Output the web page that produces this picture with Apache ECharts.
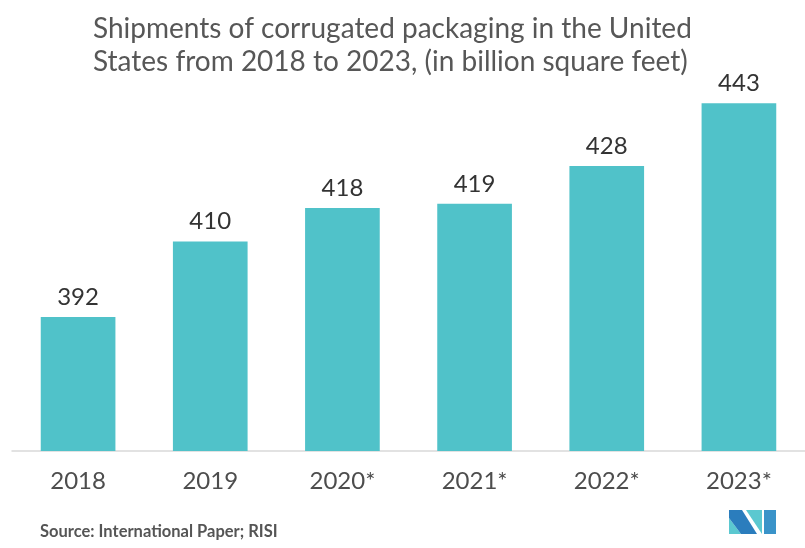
<!DOCTYPE html>
<html>
<head>
<meta charset="utf-8">
<script src="https://cdn.jsdelivr.net/npm/echarts@6/dist/echarts.min.js"></script>
<style>
  html, body { margin: 0; padding: 0; background: #fff; }
  #main { width: 805px; height: 548px; }
</style>
</head>
<body>
<div id="main"></div>
<script>
var years = ['2018', '2019', '2020*', '2021*', '2022*', '2023*'];
var shipments = [392, 410, 418, 419, 428, 443];

var FONT = 'Lato';
var myChart = echarts.init(document.getElementById('main'));

var option = {
    backgroundColor: '#fff',
    title: {
        text: 'Shipments of corrugated packaging in the United\nStates from 2018 to 2023, (in billion square feet)',
        left: 88,
        top: 7,
        textStyle: {
            fontFamily: FONT,
            fontSize: 28,
            fontWeight: 'normal',
            lineHeight: 33,
            color: '#575757'
        }
    },
    grid: {
        left: 12,
        right: 0,
        top: 32,
        bottom: 97
    },
    xAxis: {
        type: 'category',
        data: years,
        axisTick: { show: false },
        axisLine: {
            lineStyle: { color: '#d9d9d9', width: 1.5 }
        },
        axisLabel: {
            margin: 18,
            fontFamily: FONT,
            fontSize: 24,
            color: '#4d4d4d'
        }
    },
    yAxis: {
        type: 'value',
        min: 360,
        max: 460,
        show: false,
        splitLine: { show: false }
    },
    series: [{
        type: 'bar',
        data: shipments,
        barWidth: '56.5%',
        itemStyle: { color: '#50c2c9' },
        label: {
            show: true,
            position: 'top',
            distance: 8,
            fontFamily: FONT,
            fontSize: 24,
            color: '#333'
        }
    }],
    graphic: [{
        type: 'text',
        left: 40,
        top: 523,
        style: {
            text: 'Source: International Paper; RISI',
            fontFamily: FONT,
            fontSize: 16.5,
            fontWeight: 'bold',
            fill: '#555'
        }
    }, {
        type: 'group',
        left: 729,
        top: 510,
        children: [{
            type: 'polygon',
            shape: { points: [[0, 8], [12, 24], [0, 24]] },
            style: { fill: '#5bc8d0' }
        }, {
            type: 'polygon',
            shape: { points: [[0, 0], [13, 0], [28, 24], [12, 24], [0, 8]] },
            style: { fill: '#2b7dbd' }
        }, {
            type: 'polygon',
            shape: { points: [[17, 0], [33, 0], [33, 24]] },
            style: { fill: '#5bc8d0' }
        }, {
            type: 'polygon',
            shape: { points: [[35, 0], [47, 0], [47, 24], [35, 24]] },
            style: { fill: '#3a93c9' }
        }]
    }]
};

myChart.setOption(option);

window.onresize = function() {
    myChart.resize();
};
</script>
</body>
</html>
